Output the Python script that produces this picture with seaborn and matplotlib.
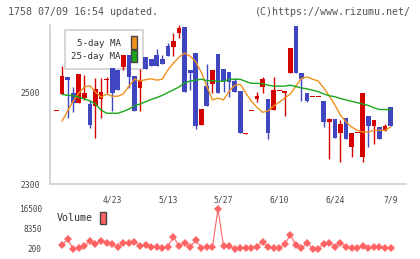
import numpy as np
import pandas as pd
import seaborn as sns
import matplotlib.pyplot as plt
from matplotlib.patches import Patch

# date labels every 10 sessions
date_labels = ['4/23', '5/13', '5/27', '6/10', '6/24', '7/9']
date_index = [10, 20, 30, 40, 50, 60]

opens = [2459, 2496, 2533, 2499, 2477, 2488, 2475, 2470, 2486, 2526,
         2553, 2548, 2555, 2580, 2535, 2509, 2576, 2573, 2580, 2572,
         2600, 2598, 2629, 2641, 2549, 2584, 2429, 2513, 2517, 2583,
         2550, 2544, 2525, 2502, 2408, 2460, 2485, 2511, 2485, 2461,
         2504, 2499, 2541, 2644, 2542, 2499, 2491, 2491, 2481, 2435,
         2441, 2411, 2443, 2381, 2411, 2359, 2448, 2427, 2424, 2416,
         2467]
closes = [2459, 2535, 2527, 2477, 2539, 2499, 2428, 2506, 2501, 2528,
          2499, 2504, 2580, 2533, 2459, 2526, 2550, 2557, 2557, 2561,
          2579, 2611, 2640, 2501, 2542, 2427, 2463, 2470, 2548, 2497,
          2524, 2522, 2501, 2410, 2412, 2460, 2491, 2528, 2411, 2505,
          2504, 2503, 2596, 2541, 2528, 2481, 2491, 2491, 2435, 2441,
          2400, 2430, 2398, 2410, 2411, 2498, 2427, 2439, 2398, 2426,
          2427]
highs = [2459, 2557, 2533, 2511, 2539, 2537, 2483, 2530, 2530, 2533,
         2553, 2548, 2580, 2580, 2535, 2551, 2576, 2573, 2593, 2580,
         2607, 2629, 2646, 2641, 2549, 2584, 2463, 2562, 2548, 2583,
         2550, 2544, 2530, 2502, 2412, 2460, 2501, 2533, 2485, 2533,
         2504, 2503, 2596, 2644, 2542, 2499, 2491, 2491, 2481, 2443,
         2441, 2439, 2443, 2410, 2411, 2498, 2448, 2439, 2424, 2430,
         2467]
lows = [2459, 2496, 2443, 2456, 2477, 2483, 2422, 2401, 2443, 2498,
        2459, 2504, 2548, 2509, 2459, 2459, 2550, 2557, 2557, 2561,
        2579, 2579, 2617, 2501, 2504, 2420, 2429, 2470, 2499, 2497,
        2500, 2490, 2500, 2410, 2408, 2460, 2479, 2499, 2399, 2461,
        2504, 2448, 2541, 2541, 2480, 2479, 2491, 2491, 2425, 2354,
        2400, 2348, 2398, 2359, 2411, 2347, 2381, 2388, 2398, 2416,
        2427]

nan = np.nan
ma5 = [nan, 2437, 2459, 2480, 2498, 2511, 2514, 2500, 2489, 2496,
       2491, 2491, 2496, 2513, 2528, 2524, 2527, 2529, 2526, 2528,
       2548, 2563, 2576, 2585, 2578, 2566, 2543, 2513, 2483, 2487,
       2483, 2502, 2515, 2517, 2498, 2480, 2467, 2456, 2459, 2470,
       2478, 2487, 2496, 2513, 2530, 2533, 2528, 2524, 2509, 2491,
       2472, 2450, 2435, 2424, 2417, 2413, 2413, 2417, 2417, 2417,
       2424]
ma25 = [nan, 2495, 2493, 2492, 2489, 2485, 2481, 2474, 2461, 2454,
        2454, 2454, 2458, 2463, 2470, 2474, 2479, 2484, 2488, 2493,
        2499, 2505, 2511, 2520, 2524, 2526, 2528, 2525, 2525, 2523,
        2524, 2527, 2528, 2528, 2523, 2519, 2519, 2518, 2515, 2513,
        2513, 2513, 2515, 2512, 2509, 2507, 2504, 2501, 2496, 2492,
        2490, 2486, 2483, 2480, 2477, 2474, 2471, 2466, 2462, 2462,
        2462]
volume = [nan, 1700, 4030, 150, 600, 1300, 3340, 2000, 3460, 2640,
          2000, 770, 2400, 2400, 3050, 1300, 1700, 770, 770, 360,
          1000, 5100, 1300, 2640, 770, 3750, 600, 1000, 770, 16300,
          1300, 1300, 100, 600, 360, 360, 1000, 3050, 1000, 360,
          360, 2100, 5800, 1700, 360, 2640, 150, 150, 2000, 2640,
          1000, 2640, 1000, 360, 360, 1300, 600, 1000, 1000, 360,
          360]

df = pd.DataFrame({'o': opens, 'h': highs, 'l': lows, 'c': closes,
                   'ma5': ma5, 'ma25': ma25, 'vol': volume})
df['i'] = np.arange(len(df))

RED = '#d60000'
BLUE = '#4046c0'
ORANGE = '#f0901c'
GREEN = '#1aa81a'
VOLC = '#ff6464'
GRID = '#d0d0d0'
TXT = '#444444'

sns.set_style('white')
plt.rcParams['font.family'] = ['DejaVu Sans Mono']

fig = plt.figure(figsize=(4.2, 2.59), dpi=100)
W, H = 420, 259
ax = fig.add_axes([50 / W, 1 - 184 / H, 356 / W, 159 / H])
vax = fig.add_axes([50 / W, 1 - 252 / H, 356 / W, 47 / H])

# candles
up = df['c'] >= df['o']
colors = np.where(up, RED, BLUE)
ax.vlines(df['i'], df['l'], df['h'], colors=colors, lw=1, zorder=2)
body_lo = np.minimum(df['o'], df['c'])
body_h = np.abs(df['c'] - df['o'])
minh = 2.2
bottom = np.where(body_h < minh, (df['o'] + df['c']) / 2 - minh / 2, body_lo)
height = np.maximum(body_h, minh)
ax.bar(df['i'], height, bottom=bottom, width=0.85, color=colors, lw=0, zorder=3)

sns.lineplot(data=df, x='i', y='ma5', ax=ax, color=ORANGE, lw=1, zorder=4)
sns.lineplot(data=df, x='i', y='ma25', ax=ax, color=GREEN, lw=1, zorder=4)

xlim = (-1.17, 62.77)
ax.set_xlim(xlim)
ax.set_ylim(2300, 2646)
ax.set_xlabel('')
ax.set_ylabel('')
for s in ['top', 'right']:
    ax.spines[s].set_visible(False)
for s in ['left', 'bottom']:
    ax.spines[s].set_color(GRID)
    ax.spines[s].set_linewidth(1.2)

ax.set_yticks([2300, 2500])
ax.set_yticklabels(['2300', '2500'])
ax.tick_params(axis='y', direction='inout', length=6, width=1.2, color=GRID,
               pad=4, labelsize=5.8, labelcolor=TXT)
ax.set_xticks(date_index)
ax.set_xticklabels(date_labels)
ax.set_xticks(np.linspace(xlim[0], xlim[1], 12), minor=True)
ax.tick_params(axis='x', which='major', length=0, pad=8, labelsize=5.8, labelcolor=TXT)
ax.tick_params(axis='x', which='minor', direction='inout', length=7, width=1.2, color=GRID)

handles = [Patch(facecolor=ORANGE, edgecolor='#444444', lw=1, label='5-day MA'),
           Patch(facecolor=GREEN, edgecolor='#444444', lw=1, label='25-day MA')]
leg = ax.legend(handles=handles, loc='upper left', bbox_to_anchor=(0.042, 0.969),
                markerfirst=False, fontsize=6.6, handlelength=0.65, handleheight=1.74,
                handletextpad=1.1, labelspacing=0.1, borderpad=0.7, borderaxespad=0,
                fancybox=False, edgecolor=GRID, framealpha=1, labelcolor='#333333')
leg.get_frame().set_linewidth(1.2)
leg.set_zorder(1)

# volume panel
sns.lineplot(data=df, x='i', y='vol', ax=vax, color=VOLC, lw=0.8, marker='D',
             markersize=4.5, markeredgewidth=0)
vax.set_xlim(xlim)
vax.set_ylim(-1150, 18000)
vax.set_xlabel('')
vax.set_ylabel('')
for s in vax.spines.values():
    s.set_visible(False)
vax.set_xticks([])
vax.set_yticks([200, 8350, 16500])
vax.set_yticklabels(['200', '8350', '16500'])
vax.tick_params(axis='y', length=0, pad=6, labelsize=5.6, labelcolor=TXT)
vax.patch.set_alpha(0)

vleg = fig.legend(handles=[Patch(facecolor=VOLC, edgecolor='#444444', lw=1, label='Volume')],
                  loc='upper left', bbox_to_anchor=(57 / W, 1 - 212 / H),
                  markerfirst=False, fontsize=7.2, handlelength=0.6, handleheight=1.5,
                  handletextpad=0.7, borderpad=0, borderaxespad=0, frameon=False,
                  labelcolor='#333333')

fig.text(8 / W, 1 - 12 / H, '1758 07/09 16:54 updated.', fontsize=7.2,
         color='#555555', va='center', ha='left')
fig.text(411 / W, 1 - 12 / H, '(C)https://www.rizumu.net/', fontsize=7.2,
         color='#555555', va='center', ha='right')

fig.savefig('out.png', dpi=100)
